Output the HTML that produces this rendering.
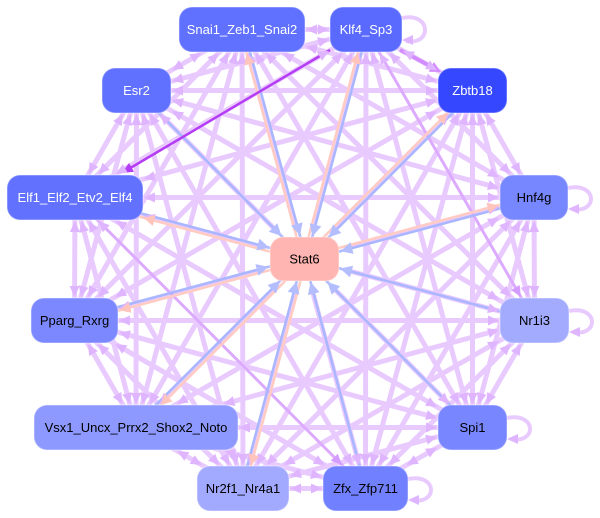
<!DOCTYPE html>
<html><head><meta charset="utf-8"><style>
html,body{margin:0;padding:0;background:#fff;}
svg{display:block;}
text{font-family:"Liberation Sans",Arial,sans-serif;font-size:13px;text-anchor:middle;}
</style></head><body>
<svg id="g" width="600" height="518" viewBox="0 0 600 518" xmlns="http://www.w3.org/2000/svg">
<rect width="600" height="518" fill="#fff"/>
<path fill="none" stroke="#e9caff" stroke-width="5" d="M242 29.5L366 29.5M242 29.5L136.5 90.5M242 29.5L472.5 90.5M242 29.5L75 197.5M242 29.5L534 197.5M242 29.5L74.5 320.5M242 29.5L534.5 320.5M242 29.5L136 427.5M242 29.5L472.5 427.5M242 29.5L243 488.5M242 29.5L365.5 488.5
M366 29.5L136.5 90.5M366 29.5L472.5 90.5M366 29.5L75 197.5M366 29.5L534 197.5M366 29.5L74.5 320.5M366 29.5L136 427.5M366 29.5L472.5 427.5M366 29.5L243 488.5M366 29.5L365.5 488.5
M136.5 90.5L472.5 90.5M136.5 90.5L75 197.5M136.5 90.5L534 197.5M136.5 90.5L74.5 320.5M136.5 90.5L534.5 320.5M136.5 90.5L136 427.5M136.5 90.5L472.5 427.5M136.5 90.5L243 488.5M136.5 90.5L365.5 488.5
M472.5 90.5L75 197.5M472.5 90.5L534 197.5M472.5 90.5L74.5 320.5M472.5 90.5L534.5 320.5M472.5 90.5L136 427.5M472.5 90.5L472.5 427.5M472.5 90.5L243 488.5M472.5 90.5L365.5 488.5
M75 197.5L534 197.5M75 197.5L74.5 320.5M75 197.5L534.5 320.5M75 197.5L136 427.5M75 197.5L472.5 427.5M75 197.5L243 488.5
M534 197.5L74.5 320.5M534 197.5L534.5 320.5M534 197.5L136 427.5M534 197.5L472.5 427.5M534 197.5L243 488.5M534 197.5L365.5 488.5
M74.5 320.5L534.5 320.5M74.5 320.5L136 427.5M74.5 320.5L472.5 427.5M74.5 320.5L243 488.5M74.5 320.5L365.5 488.5
M534.5 320.5L136 427.5M534.5 320.5L472.5 427.5M534.5 320.5L243 488.5M534.5 320.5L365.5 488.5
M136 427.5L472.5 427.5M136 427.5L243 488.5M136 427.5L365.5 488.5M472.5 427.5L243 488.5M472.5 427.5L365.5 488.5M243 488.5L365.5 488.5"/>
<path fill="none" stroke="#dcaaff" stroke-width="3" d="M366 29.5L534.5 320.5M75 197.5L365.5 488.5"/>
<!-- white halo around Stat6 -->
<rect x="263" y="230" width="83" height="58" rx="18" fill="#ffffff"/>
<!-- self loops -->
<g fill="none" stroke="#e9caff" stroke-width="4">
<path d="M402 18C432 12 432 46 406 41"/>
<path d="M568 188C598 182 598 214 572 209"/>
<path d="M569 311C599 305 599 337 573 332"/>
<path d="M507 418C537 412 537 444 511 439"/>
<path d="M408 479C438 473 438 505 412 500"/>
</g>
<g fill="#e0b5ff">
<polygon points="402,40 413,35 413,45"/>
<polygon points="568,209 579,204 579,214"/>
<polygon points="569,332 580,327 580,337"/>
<polygon points="507,439 518,434 518,444"/>
<polygon points="408,500 419,495 419,505"/>
</g>
<!-- Stat6 edges -->
<g fill="none" stroke="#aab6ff" stroke-width="2.6">
<path d="M243.7 29L306.2 258.5M367.7 30L306.2 259.5M473.8 91.8L305.8 260.3M534.5 199.2L305 260.7M75.5 195.8L305 257.3M74 318.8L304 257.3M134.7 426.2L303.2 257.7M241.3 488L302.8 258.5M136.5 90.5L304.5 259M534.5 320.5L304.5 259M472.5 427.5L304.5 259M365.5 488.5L304.5 259"/>
</g>
<g fill="none" stroke="#ffcbc3" stroke-width="2.6">
<path d="M240.3 30L302.8 259.5M364.3 29L302.8 258.5M471.2 89.2L303.2 257.7M533.5 195.8L304 257.3M74.5 199.2L304 260.7M75 322.2L305 260.7M137.3 428.8L305.8 260.3M244.7 489L306.2 259.5"/>
</g>
<!-- special purple edges -->
<path d="M330 50L127 170" stroke="#b53cf5" stroke-width="2.5" fill="none"/>
<polygon points="122,173 129,163 134,171.7" fill="#b53cf5"/>
<path d="M400 50L432 67" stroke="#d38cff" stroke-width="4" fill="none"/>
<polygon points="441,72 428.7,71.8 433.9,62" fill="#d38cff"/>
<g id="arr"></g>
<!-- nodes -->
<g stroke="#ffffff" stroke-opacity="0.3" stroke-width="1.5">
<rect x="179" y="7" width="126" height="45" rx="13" fill="#6070ff"/>
<rect x="330" y="7" width="72" height="45" rx="13" fill="#5a6aff"/>
<rect x="102" y="68" width="69" height="45" rx="13" fill="#6070ff"/>
<rect x="438" y="68" width="69" height="45" rx="13" fill="#3548ff"/>
<rect x="7" y="175" width="136" height="45" rx="13" fill="#6272ff"/>
<rect x="500" y="175" width="68" height="45" rx="13" fill="#7787ff"/>
<rect x="270" y="237" width="69" height="44" rx="13" fill="#ffb6b2"/>
<rect x="31" y="298" width="87" height="45" rx="13" fill="#7b88ff"/>
<rect x="500" y="298" width="69" height="45" rx="13" fill="#a3abff"/>
<rect x="34" y="405" width="204" height="45" rx="13" fill="#8d99ff"/>
<rect x="438" y="405" width="69" height="45" rx="13" fill="#7886ff"/>
<rect x="197" y="466" width="92" height="45" rx="13" fill="#a2aaff"/>
<rect x="323" y="466" width="85" height="45" rx="13" fill="#7180ff"/>
</g>
<g fill="#ffffff">
<text x="242" y="34">Snai1_Zeb1_Snai2</text>
<text x="366" y="34">Klf4_Sp3</text>
<text x="136.5" y="95">Esr2</text>
<text x="472.5" y="95">Zbtb18</text>
<text x="75" y="202">Elf1_Elf2_Etv2_Elf4</text>
</g>
<g fill="#000000">
<text x="534" y="202">Hnf4g</text>
<text x="304.5" y="263.5">Stat6</text>
<text x="74.5" y="325">Pparg_Rxrg</text>
<text x="534.5" y="325">Nr1i3</text>
<text x="136" y="432">Vsx1_Uncx_Prrx2_Shox2_Noto</text>
<text x="472.5" y="432">Spi1</text>
<text x="243" y="493">Nr2f1_Nr4a1</text>
<text x="365.5" y="493">Zfx_Zfp711</text>
</g>
</svg>
<script>
(function(){
var R={A:[179,7,126,45],B:[330,7,72,45],C:[102,68,69,45],D:[438,68,69,45],E:[7,175,136,45],F:[500,175,68,45],G:[31,298,87,45],H:[500,298,69,45],I:[34,405,204,45],J:[438,405,69,45],K:[197,466,92,45],L:[323,466,85,45],S:[270,237,69,44]};
function ctr(k){var r=R[k];return [r[0]+r[2]/2,r[1]+r[3]/2];}
var g=document.getElementById('arr');
function arrow(p0,p1,k,col,L,W){
 var r=R[k],hw=r[2]/2+1,hh=r[3]/2+1;
 var dx=p1[0]-p0[0],dy=p1[1]-p0[1];
 var t=Math.min(Math.abs(dx)>1e-6?hw/Math.abs(dx):1e9,Math.abs(dy)>1e-6?hh/Math.abs(dy):1e9);
 var tx=p1[0]-dx*t,ty=p1[1]-dy*t;
 var len=Math.sqrt(dx*dx+dy*dy),ux=dx/len,uy=dy/len;
 var bx=tx-ux*L,by=ty-uy*L;
 var pts=[[tx,ty],[bx-uy*W,by+ux*W],[bx+uy*W,by-ux*W]];
 var p=document.createElementNS('http://www.w3.org/2000/svg','polygon');
 p.setAttribute('points',pts.map(function(q){return q[0].toFixed(1)+','+q[1].toFixed(1);}).join(' '));
 p.setAttribute('fill',col);g.appendChild(p);
}
var K='ABCDEFGHIJKL'.split('');
for(var i=0;i<K.length;i++)for(var j=i+1;j<K.length;j++){
 var a=K[i],b=K[j];
 var ca=ctr(a),cb=ctr(b);
 var cB=(a=='B'&&b=='H')?'#d59cff':'#e0b5ff';
 var cA='#e0b5ff';
 if(a=='E'&&b=='L')cB='#d59cff';
 arrow(ca,cb,b,cB,11,5);
 arrow(cb,ca,a,cA,11,5);
}
var S=ctr('S');
var off={A:[1.74,-0.47],B:[1.74,0.47],D:[1.27,1.27],F:[0.47,1.74],E:[0.47,-1.74],G:[-0.47,-1.74],I:[-1.27,-1.27],K:[-1.74,-0.47]};
K.forEach(function(k){
 var c=ctr(k),o=off[k]||[0,0];
 arrow([c[0]+o[0],c[1]+o[1]],[S[0]+o[0],S[1]+o[1]],'S','#b4beff',12,6);
 if(off[k]){
  arrow([S[0]-o[0],S[1]-o[1]],[c[0]-o[0],c[1]-o[1]],k,'#ffc4bb',11,5.5);
 }
});
})();
</script>
</body></html>
